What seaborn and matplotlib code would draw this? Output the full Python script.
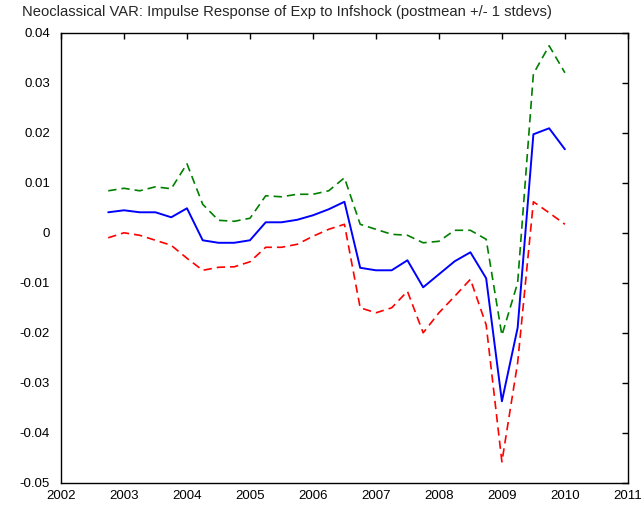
import numpy as np
import pandas as pd
import matplotlib
matplotlib.use("Agg")
import matplotlib.pyplot as plt
import seaborn as sns

# quarterly dates 2002Q4 .. 2010Q1
dates = [2002.75, 2003.0, 2003.25, 2003.5, 2003.75, 2004.0, 2004.25, 2004.5,
         2004.75, 2005.0, 2005.25, 2005.5, 2005.75, 2006.0, 2006.25, 2006.5,
         2006.75, 2007.0, 2007.25, 2007.5, 2007.75, 2008.0, 2008.25, 2008.5,
         2008.75, 2009.0, 2009.25, 2009.5, 2009.75, 2010.0]

post_mean = [0.0041, 0.0045, 0.0041, 0.0041, 0.0031, 0.0049, -0.0015, -0.0020,
             -0.0020, -0.0015, 0.0021, 0.0021, 0.0026, 0.0035, 0.0047, 0.0062,
             -0.0070, -0.0075, -0.0075, -0.0055, -0.0109, -0.0083, -0.0057, -0.0039,
             -0.0091, -0.0337, -0.0190, 0.0197, 0.0209, 0.0167]

upper = [0.0084, 0.0089, 0.0084, 0.0092, 0.0088, 0.0138, 0.0057, 0.0025,
         0.0023, 0.0029, 0.0074, 0.0072, 0.0077, 0.0077, 0.0084, 0.0110,
         0.0017, 0.0007, -0.0003, -0.0005, -0.0020, -0.0017, 0.0005, 0.0005,
         -0.0013, -0.0205, -0.0100, 0.0318, 0.0374, 0.0320]

lower = [-0.0010, 0.0000, -0.0005, -0.0015, -0.0025, -0.0051, -0.0075, -0.0069,
         -0.0068, -0.0058, -0.0029, -0.0029, -0.0023, -0.0007, 0.0007, 0.0017,
         -0.0150, -0.0160, -0.0150, -0.0117, -0.0200, -0.0160, -0.0127, -0.0093,
         -0.0184, -0.0458, -0.0260, 0.0062, 0.0040, 0.0017]

x_ticks = list(range(2002, 2012))
y_ticks = [-0.05, -0.04, -0.03, -0.02, -0.01, 0, 0.01, 0.02, 0.03, 0.04]
y_tick_labels = ["-0.05", "-0.04", "-0.03", "-0.02", "-0.01", "0", "0.01", "0.02", "0.03", "0.04"]

title = "Neoclassical VAR: Impulse Response of Exp to Infshock (postmean +/- 1 stdevs)"

sns.set_style("white")
plt.rcParams['font.family'] = ['Liberation Sans', 'DejaVu Sans']

fig = plt.figure(figsize=(6.42, 5.12), dpi=100)
ax = fig.add_axes([0.095, 0.057, 0.883, 0.879])

sns.lineplot(x=dates, y=upper, ax=ax, color=(0, 0.5, 0), linewidth=1.2, dashes=False)
sns.lineplot(x=dates, y=lower, ax=ax, color=(1, 0, 0), linewidth=1.2, dashes=False)
sns.lineplot(x=dates, y=post_mean, ax=ax, color=(0, 0, 1), linewidth=1.4)
ax.lines[0].set_dashes((5, 3))
ax.lines[1].set_dashes((5, 3))

ax.set_xlim(2002, 2011)
ax.set_ylim(-0.05, 0.04)
ax.set_xticks(x_ticks)
ax.set_xticklabels([str(t) for t in x_ticks])
ax.set_yticks(y_ticks)
ax.set_yticklabels(y_tick_labels)
ax.tick_params(direction='in', top=True, right=True, length=4, width=1,
               labelsize=9.5, colors='black')
ax.tick_params(axis='y', pad=8)
ax.tick_params(axis='x', pad=5)
for s in ax.spines.values():
    s.set_color('black')
    s.set_linewidth(1.0)

fig.text(0.034, 0.977, title, fontsize=10.6, ha='left', va='center')

fig.savefig("out.png", dpi=100)
